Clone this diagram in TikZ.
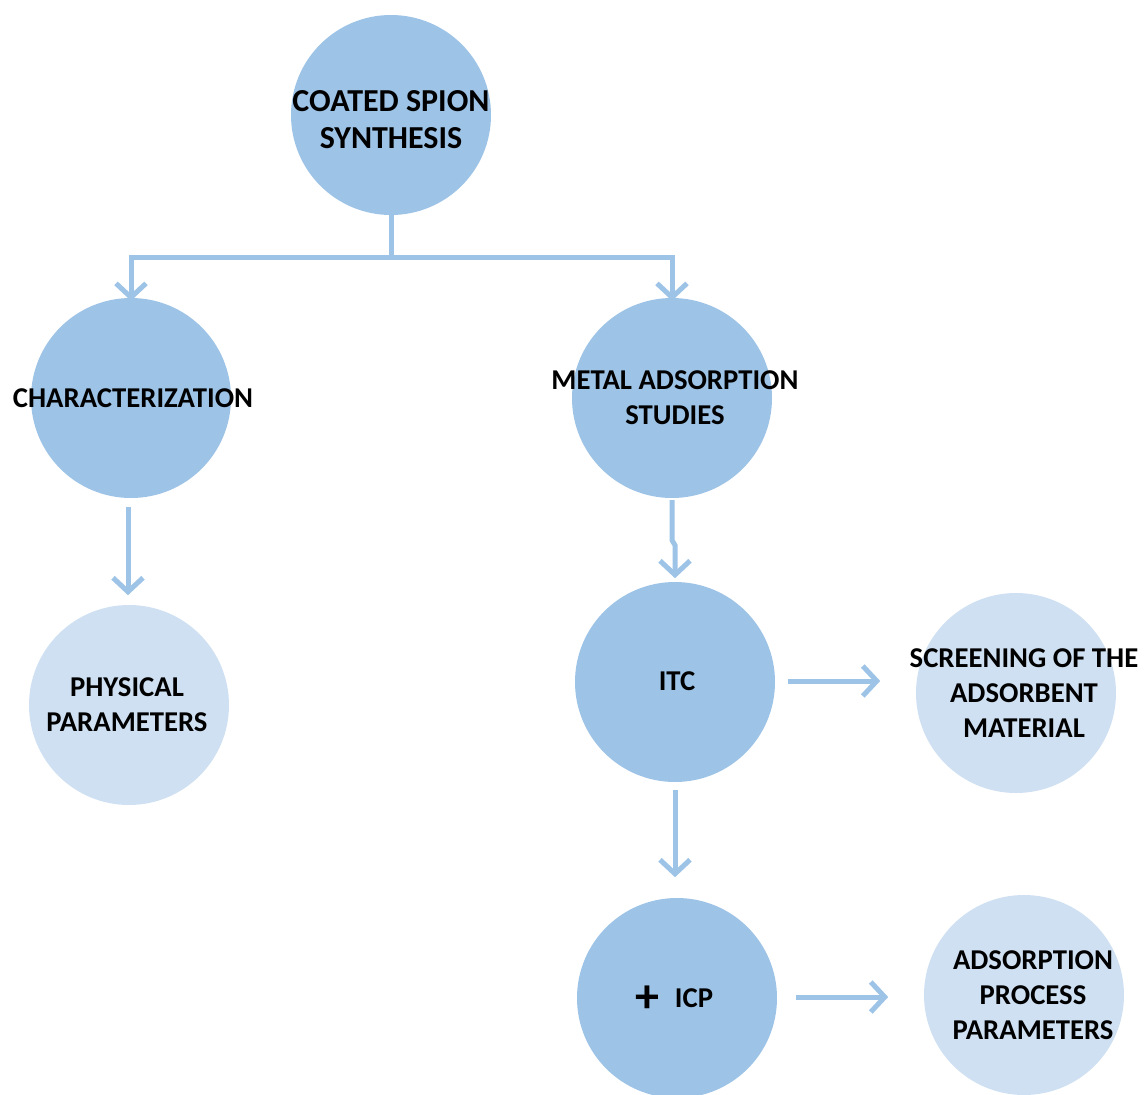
\documentclass[tikz,border=0pt]{standalone}
\usepackage{fontspec}
\setmainfont{Carlito}
\usetikzlibrary{arrows.meta}
\definecolor{darkc}{HTML}{9DC3E6}
\definecolor{lightc}{HTML}{CFE0F2}
\definecolor{arrc}{HTML}{9DC3E6}
\tikzset{
  bigc/.style={circle, fill=darkc, minimum size=200pt, inner sep=0pt},
  lightcirc/.style={circle, fill=lightc, minimum size=200pt, inner sep=0pt},
  lbl/.style={font=\fontsize{28.7}{35}\selectfont\bfseries, align=center, text=black, inner sep=0pt},
  arr/.style={draw=arrc, line width=5pt, -{Straight Barb[length=14pt, width=30pt, line width=5pt]}},
  ln/.style={draw=arrc, line width=5pt}
}
\begin{document}
\begin{tikzpicture}[x=1pt,y=-1pt]
\useasboundingbox (0,0) rectangle (1144,1095);
\node[bigc] (top) at (391,115) {};
\node[bigc] (char) at (131,398) {};
\node[bigc] (metal) at (672,398) {};
\node[lightcirc] (phys) at (129,705) {};
\node[bigc] (itc) at (675,682) {};
\node[lightcirc] (scr) at (1016,693) {};
\node[bigc] (icp) at (677,998) {};
\node[lightcirc] (app) at (1024,995) {};

\node[lbl, font=\fontsize{32}{37}\selectfont\bfseries] (tt) at (391,120) {COATED SPION\\SYNTHESIS};
\node[lbl] (ct) at (133,398) {CHARACTERIZATION};
\node[lbl] (mt) at (675,398) {METAL ADSORPTION\\STUDIES};
\node[lbl] (pt) at (127,705) {PHYSICAL\\PARAMETERS};
\node[lbl] (it) at (677,681) {ITC};
\node[lbl] (st) at (1024,693) {SCREENING OF THE\\ADSORBENT\\MATERIAL};
\node[lbl] (plus) at (647,999) {\fontsize{48}{48}\selectfont +};
\node[lbl] (icpt) at (694,998) {ICP};
\node[lbl] (at) at (1033,995) {ADSORPTION\\PROCESS\\PARAMETERS};

\coordinate (j) at (391,257);
\draw[ln] (top.south) -- (j);
\draw[arr] (j) -| ([yshift=-3pt]char.north);
\draw[arr] (j) -| ([yshift=-3pt]metal.north);
\draw[arr] (char.south) ++(-3,9) -- ++(0,88);
\draw[arr] (metal.south) ++(0,2) -- ++(0,40) -- ++(3,5) -- ++(0,33);
\draw[arr] (itc.east) ++(13,-1) -- ++(92,0);
\draw[arr] (itc.south) ++(0,8) -- ++(0,87);
\draw[arr] (icp.east) ++(19,-1) -- ++(92,0);
\end{tikzpicture}
\end{document}
